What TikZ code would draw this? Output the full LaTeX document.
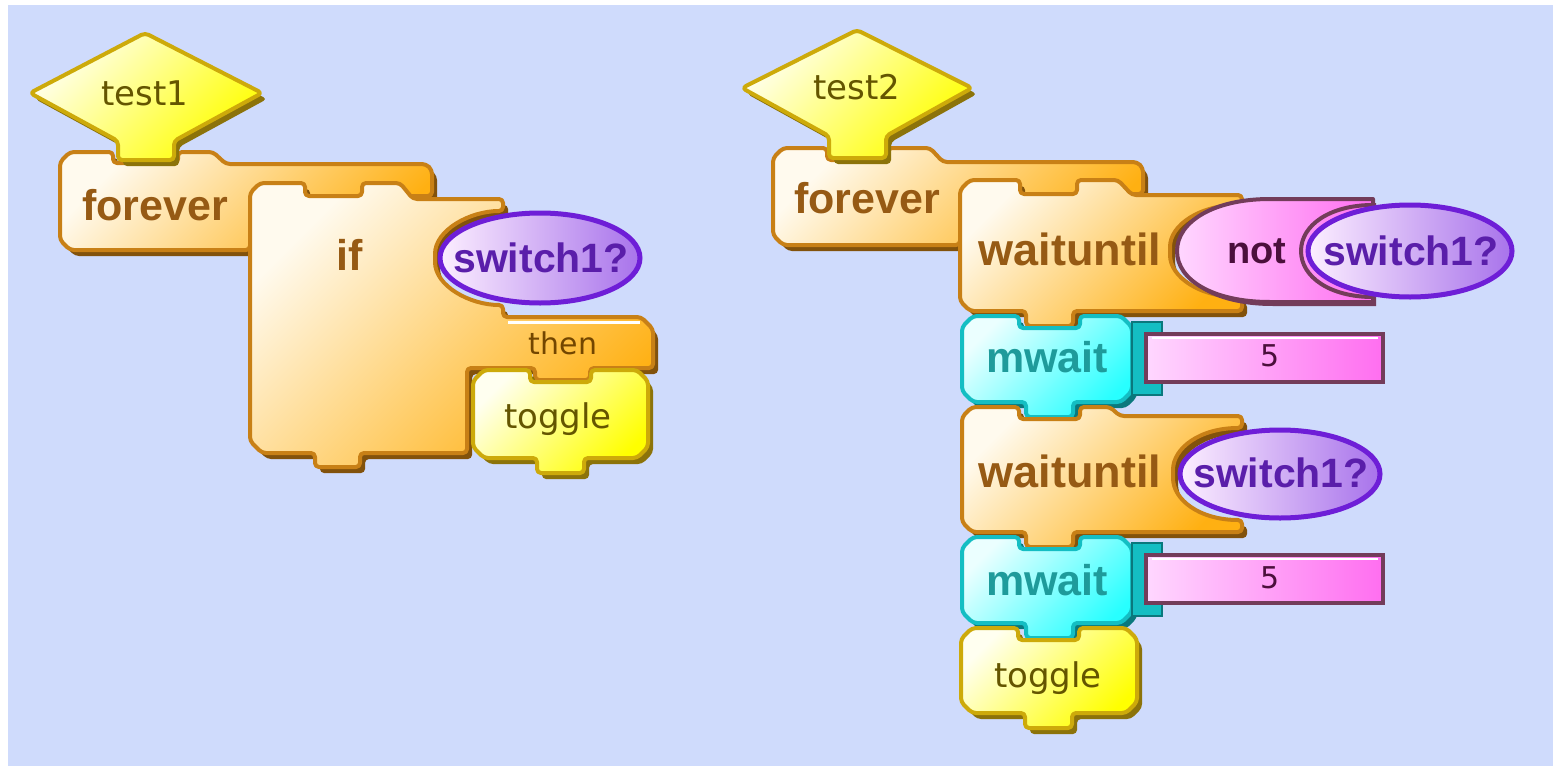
\documentclass[tikz,border=0pt]{standalone}
\usepackage{fontspec}
\setmainfont{Liberation Sans}
\newfontfamily\dvs{DejaVu Sans}
\definecolor{bg}{RGB}{207,219,252}
\definecolor{orTop}{RGB}{255,250,238}
\definecolor{orBot}{RGB}{255,176,18}
\definecolor{orStroke}{RGB}{200,128,22}
\definecolor{orShadow}{RGB}{130,82,12}
\definecolor{orText}{RGB}{150,90,20}
\definecolor{thText}{RGB}{115,70,0}
\definecolor{yeTop}{RGB}{255,255,240}
\definecolor{yeBot}{RGB}{255,255,0}
\definecolor{yeStroke}{RGB}{205,170,10}
\definecolor{yeShadow}{RGB}{140,115,10}
\definecolor{yeText}{RGB}{100,85,0}
\definecolor{cyTop}{RGB}{235,255,255}
\definecolor{cyBot}{RGB}{40,255,255}
\definecolor{cyStroke}{RGB}{20,190,195}
\definecolor{cyShadow}{RGB}{10,120,125}
\definecolor{cyText}{RGB}{30,155,155}
\definecolor{puLeft}{RGB}{252,238,255}
\definecolor{puRight}{RGB}{168,115,235}
\definecolor{puStroke}{RGB}{110,30,215}
\definecolor{puText}{RGB}{90,30,170}
\definecolor{piLeft}{RGB}{255,215,255}
\definecolor{piRight}{RGB}{255,110,240}
\definecolor{piStroke}{RGB}{115,60,90}
\definecolor{piText}{RGB}{75,15,60}
\tikzset{
  blk/.style={line width=2pt, line join=round, rounded corners=2pt},
  oblk/.style={blk, draw=orStroke, top color=orTop, bottom color=orBot, shading angle=45,
    preaction={fill=orShadow, transform canvas={shift={(5,6)}}}},
  yblk/.style={blk, draw=yeStroke, top color=yeTop, bottom color=yeBot, shading angle=45,
    preaction={fill=yeShadow, transform canvas={shift={(5,6)}}}},
  cblk/.style={blk, draw=cyStroke, top color=cyTop, bottom color=cyBot, shading angle=45,
    preaction={fill=cyShadow, transform canvas={shift={(5,6)}}}},
  pblk/.style={line width=2pt, line join=round, draw=piStroke, left color=piLeft, right color=piRight,
    preaction={fill=piStroke, transform canvas={shift={(3,4)}}}},
  oval/.style={line width=2.5pt, draw=puStroke, left color=puLeft, right color=puRight},
  brk/.style={line width=1.2pt, line join=miter, draw=cyShadow, fill=cyStroke},
  slot/.style={line width=2pt, draw=piStroke, left color=piLeft, right color=piRight},
  bt/.style={font=\bfseries\fontsize{21.5}{24}\selectfont, inner sep=0pt, anchor=base},
  rt/.style={font=\dvs\fontsize{17}{20}\selectfont, inner sep=0pt, anchor=base},
}
% command block: style, x0, y0, x1, y1
\newcommand\cmdblock[5]{%
  \path[#1] (#2,{(#3+#5)/2}) -- (#2,{#3+11}) -- ({#2+11},#3) -- ({#2+57},#3) -- ({#2+57},{#3+12})
    -- ({#2+118},{#3+12}) -- ({#2+118},#3) -- ({#4-11},#3) -- (#4,{#3+11}) -- (#4,{#5-11})
    -- ({#4-11},#5) -- ({#2+111},#5) -- ({#2+111},{#5+15}) -- ({#2+64},{#5+15}) -- ({#2+64},#5)
    -- ({#2+11},#5) -- (#2,{#5-11}) -- cycle;}
% mwait input: top of block
\newcommand\mwaitinput[1]{%
  \path[brk] (1162,{#1+6}) -- (1132,{#1+6}) -- (1132,{#1+79}) -- (1162,{#1+79}) -- (1162,{#1+66})
    -- (1146,{#1+66}) -- (1146,{#1+18}) -- (1162,{#1+18}) -- cycle;
  \path[slot] (1146,{#1+18}) rectangle (1383,{#1+66});
  \draw[white, line width=1.2pt] (1152,{#1+22}) -- (1378,{#1+22});}
\begin{document}
\begin{tikzpicture}[x=0.5pt,y=-0.5pt]
\useasboundingbox (0,0) rectangle (1553,766);
\fill[white] (0,0) rectangle (1553,766);
\fill[bg] (8,5) rectangle (1553,766);

% ---------------- left program ----------------
\path[oblk] (60,200) -- (60,162) -- (70,152) -- (113,152) -- (113,163) -- (178,163) -- (178,152)
  -- (213,152) -- (226,164) -- (426,164) -- (432,170) -- (432,196) -- (250,196) -- (250,250)
  -- (70,250) -- (60,240) -- cycle;
\path[oblk] (250,300) -- (250,193) -- (260,183) -- (305,183) -- (305,196) -- (362,196) -- (362,183)
  -- (400,183) -- (413,199) -- (503,199) -- (503,211)
  .. controls (470,211) and (435,230) .. (435,258)
  .. controls (435,286) and (470,305) .. (503,305)
  -- (503,317) -- (641,317) -- (653,329) -- (653,368) -- (590,368) -- (590,380) -- (535,380)
  -- (535,368) -- (467,368) -- (467,453) -- (360,453) -- (360,467) -- (315,467) -- (315,453)
  -- (262,453) -- (250,441) -- cycle;
\draw[white, line width=1.5pt] (508,322) -- (640,322);
\path[yblk] (145,33) -- (262,93) -- (174,141) -- (174,160) -- (118,160) -- (118,141) -- (30,93) -- cycle;
\path[oval] (540,258) ellipse [x radius=100, y radius=45];
\cmdblock{yblk}{473}{370}{648}{458}

\node[rt, text=yeText] (test1) at (145,105) {test1};
\node[bt, text=orText] (forever1) at (155,220) {forever};
\node[bt, text=orText] (if1) at (350,270) {if};
\node[bt, text=puText, font=\bfseries\fontsize{20.5}{24}\selectfont] (sw1) at (541,272) {switch1?};
\node[rt, text=thText, font=\dvs\fontsize{15}{18}\selectfont] (then1) at (563,354) {then};
\node[rt, text=yeText] (toggle1) at (558,428) {toggle};

% ---------------- right program ----------------
\path[oblk] (773,200) -- (773,158) -- (783,148) -- (827,148) -- (827,160) -- (888,160) -- (888,148)
  -- (930,148) -- (943,162) -- (1137,162) -- (1143,168) -- (1143,194) -- (960,194) -- (960,245)
  -- (783,245) -- (773,235) -- cycle;
\path[oblk] (960,245) -- (960,190) -- (970,180) -- (1020,180) -- (1020,194) -- (1077,194) -- (1077,180)
  -- (1118,180) -- (1132,195) -- (1242,195) -- (1242,205)
  .. controls (1200,205) and (1170,225) .. (1170,251)
  .. controls (1170,277) and (1200,297) .. (1242,297)
  -- (1242,311) -- (1073,311) -- (1073,326) -- (1026,326) -- (1026,311) -- (970,311) -- (960,301) -- cycle;
\path[yblk] (857,30) -- (972,88) -- (886,136) -- (886,158) -- (829,158) -- (829,136) -- (742,88) -- cycle;
\path[pblk] (1270,199) -- (1373,199) -- (1373,302) -- (1270,302)
  .. controls (1213,302) and (1177,280) .. (1177,251)
  .. controls (1177,222) and (1213,199) .. cycle;
\draw[piStroke, line width=2pt] (1373,205) .. controls (1330,205) and (1301,225) .. (1301,251)
  .. controls (1301,277) and (1330,297) .. (1373,297);
\path[oval] (1410,251) ellipse [x radius=102, y radius=46];

\cmdblock{cblk}{962}{316}{1132}{402}
\mwaitinput{316}

\path[oblk] (962,470) -- (962,417) -- (972,407) -- (1019,407) -- (1019,419) -- (1080,419) -- (1080,407)
  -- (1110,407) -- (1120,416) -- (1242,416) -- (1242,428)
  .. controls (1200,428) and (1173,448) .. (1173,474)
  .. controls (1173,500) and (1200,520) .. (1242,520)
  -- (1242,532) -- (1073,532) -- (1073,547) -- (1026,547) -- (1026,532) -- (972,532) -- (962,522) -- cycle;
\path[oval] (1280,474) ellipse [x radius=100, y radius=44];

\cmdblock{cblk}{962}{537}{1132}{623}
\mwaitinput{537}
\cmdblock{yblk}{961}{628}{1137}{713}

\node[rt, text=yeText] (test2) at (857,99) {test2};
\node[bt, text=orText] (forever2) at (867,213) {forever};
\node[bt, text=orText, font=\bfseries\fontsize{22.5}{24}\selectfont] (wait1) at (1070,265) {waituntil};
\node[bt, text=piText, font=\bfseries\fontsize{19}{22}\selectfont] (not1) at (1257,263) {not};
\node[bt, text=puText, font=\bfseries\fontsize{20.5}{24}\selectfont] (sw2) at (1411,265) {switch1?};
\node[bt, text=cyText] (mwait1) at (1047,372) {mwait};
\node[rt, text=piText, font=\dvs\fontsize{15}{18}\selectfont] (five1) at (1270,366) {5};
\node[bt, text=orText, font=\bfseries\fontsize{22.5}{24}\selectfont] (wait2) at (1070,487) {waituntil};
\node[bt, text=puText, font=\bfseries\fontsize{20.5}{24}\selectfont] (sw3) at (1281,487) {switch1?};
\node[bt, text=cyText] (mwait2) at (1047,595) {mwait};
\node[rt, text=piText, font=\dvs\fontsize{15}{18}\selectfont] (five2) at (1270,588) {5};
\node[rt, text=yeText] (toggle2) at (1048,687) {toggle};
\end{tikzpicture}
\end{document}
